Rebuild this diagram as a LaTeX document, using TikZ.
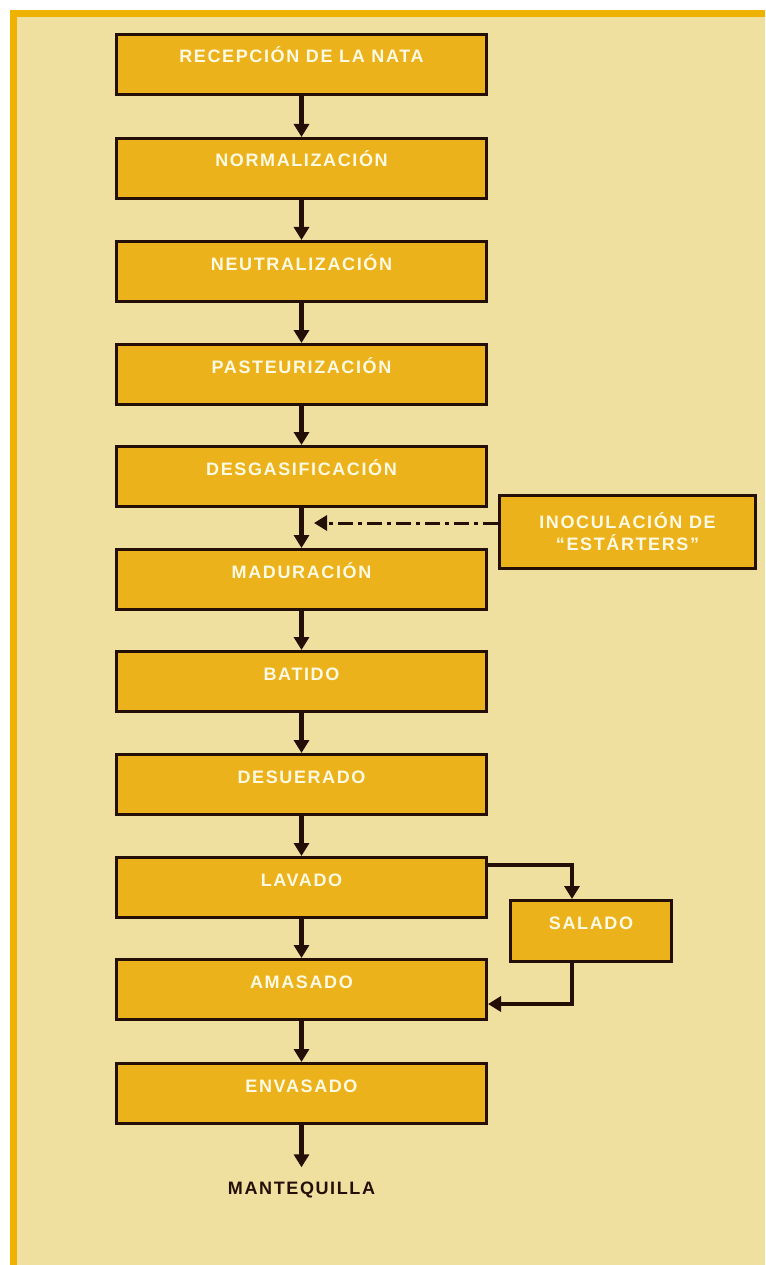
\documentclass[tikz,border=0pt]{standalone}
\usepackage{fontspec}
\setmainfont{Liberation Sans}
\newfontfamily\boxfont[LetterSpace=9]{Liberation Sans}
\usepackage{tikz}
\usetikzlibrary{shapes, arrows.meta, positioning}
\definecolor{bgtan}{RGB}{240,224,160}
\definecolor{framegold}{RGB}{240,178,0}
\definecolor{boxgold}{RGB}{236,178,28}
\definecolor{edge}{RGB}{35,15,5}
\definecolor{boxtext}{RGB}{255,250,228}
\tikzstyle{pnode} = [rectangle, draw=edge, line width=3pt, fill=boxgold, minimum width=370pt, minimum height=60pt, text height=13pt, text depth=16pt, text=boxtext, font=\boxfont\bfseries\fontsize{18}{22}\selectfont]
\tikzstyle{snode} = [pnode, minimum width=161pt, minimum height=61pt]
\tikzstyle{inode} = [pnode, minimum width=256pt, minimum height=73pt, text height=, text depth=, align=center]
\tikzstyle{line} = [draw=edge, line width=4.5pt, -{Triangle[length=13pt, width=15pt]}]
\tikzstyle{bline} = [line, line width=3.5pt]
\tikzstyle{dline} = [line, line width=3pt, dash pattern=on 15pt off 5pt on 4pt off 5pt]

\begin{document}
\begin{tikzpicture}[x=1pt, y=-1pt]
	\useasboundingbox (0,0) rectangle (765,1265);
	\fill [bgtan] (10,10) rectangle (765,1265);
	\fill [framegold] (10,10) rectangle (765,17);
	\fill [framegold] (10,10) rectangle (17,1265);

	\node [pnode] (recep) at (301.5, 64.5) {RECEPCIÓN DE LA NATA};
	\node [pnode] (normal) at (301.5, 168.5) {NORMALIZACIÓN};
	\node [pnode] (neutral) at (301.5, 271.5) {NEUTRALIZACIÓN};
	\node [pnode] (pasteur) at (301.5, 374.5) {PASTEURIZACIÓN};
	\node [pnode] (desgas) at (301.5, 476.5) {DESGASIFICACIÓN};
	\node [pnode] (madur) at (301.5, 579.5) {MADURACIÓN};
	\node [pnode] (batido) at (301.5, 681.5) {BATIDO};
	\node [pnode] (desuer) at (301.5, 784.5) {DESUERADO};
	\node [pnode] (lavado) at (301.5, 887.5) {LAVADO};
	\node [pnode] (amasado) at (301.5, 989.5) {AMASADO};
	\node [pnode] (envas) at (301.5, 1093.5) {ENVASADO};
	\node [inode] (inoc) at (627.5, 532) {INOCULACIÓN DE\\“ESTÁRTERS”};
	\node [snode] (salado) at (591, 931) {SALADO};
	\node [font=\boxfont\bfseries\fontsize{18}{22}\selectfont, text=edge, inner sep=0pt, text height=13pt, text depth=0pt] (mantequilla) at (301.5, 1188) {MANTEQUILLA};
	\coordinate (inocin) at (314, 523);

	\path [line] (recep) -- (normal);
	\path [line] (normal) -- (neutral);
	\path [line] (neutral) -- (pasteur);
	\path [line] (pasteur) -- (desgas);
	\path [line] (desgas) -- (madur);
	\path [line] (madur) -- (batido);
	\path [line] (batido) -- (desuer);
	\path [line] (desuer) -- (lavado);
	\path [line] (lavado) -- (amasado);
	\path [line] (amasado) -- (envas);
	\path [line, shorten >=14pt] (envas) -- (mantequilla);
	\path [dline] ([yshift=9pt]inoc.west) -- (inocin);
	\path [bline] ([yshift=22.5pt]lavado.east) -| ([xshift=-19pt]salado.north);
	\path [bline] ([xshift=-19pt]salado.south) |- ([yshift=-14.5pt]amasado.east);
\end{tikzpicture}
\end{document}
